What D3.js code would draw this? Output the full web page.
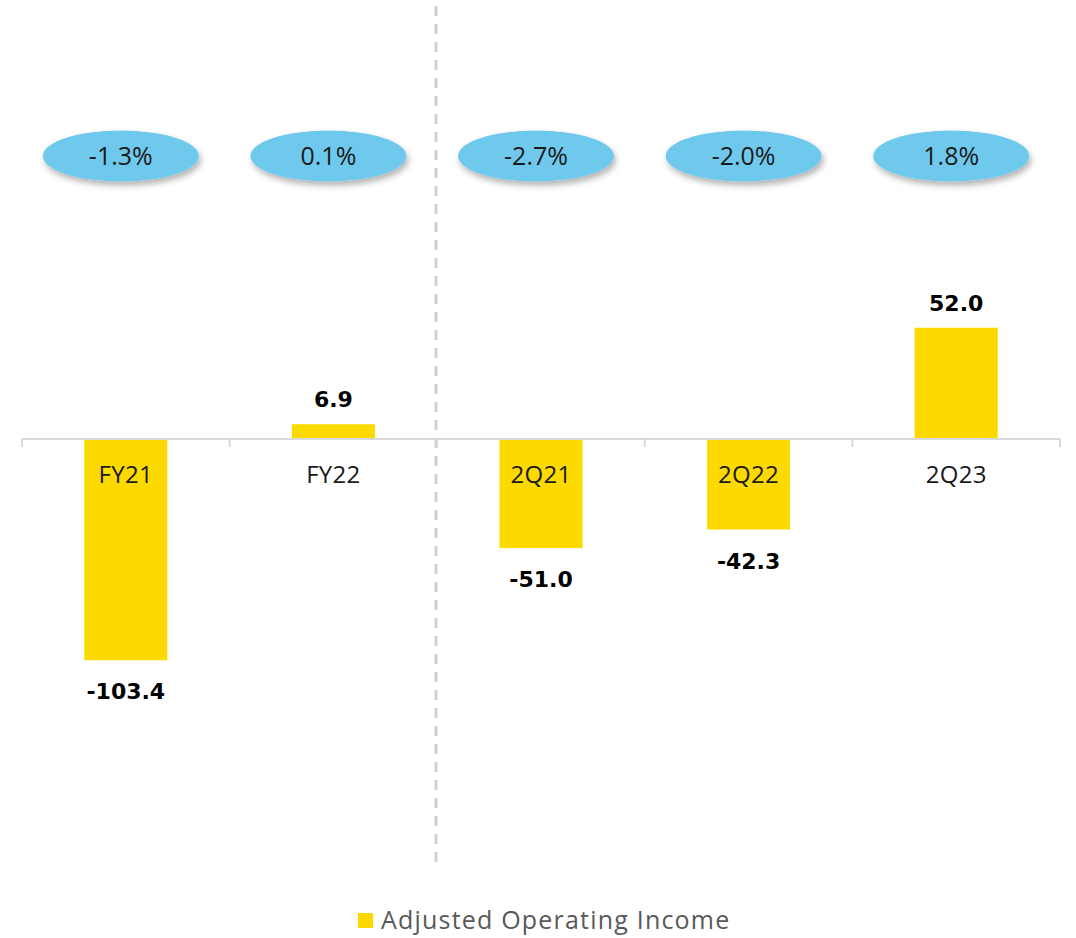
<!DOCTYPE html>
<html><head><meta charset="utf-8">
<script src="https://cdn.jsdelivr.net/npm/d3@7"></script>
<style>html,body{margin:0;padding:0;background:#fff;}svg{display:block;}</style>
</head><body>
<svg id="chart" width="1076" height="938"></svg>
<script>
const categories = ["FY21", "FY22", "2Q21", "2Q22", "2Q23"];
const incomeValues = [-103.4, 6.9, -51.0, -42.3, 52.0];
const marginLabels = ["-1.3%", "0.1%", "-2.7%", "-2.0%", "1.8%"];
const seriesName = "Adjusted Operating Income";

const svg = d3.select("#chart");

const x = d3.scaleBand().domain(categories).range([22, 1060]).paddingInner(0.6).paddingOuter(0.3);
const y = d3.scaleLinear().domain([-200, 200]).range([867, 11]);

const defs = svg.append("defs");
const f = defs.append("filter").attr("id", "shadow").attr("x", "-20%").attr("y", "-30%").attr("width", "140%").attr("height", "170%");
f.append("feDropShadow").attr("dx", 2).attr("dy", 4).attr("stdDeviation", 3).attr("flood-color", "#000").attr("flood-opacity", 0.3);

// divider
svg.append("line")
  .attr("x1", 436).attr("x2", 436)
  .attr("y1", y(200) - 5).attr("y2", y(-200))
  .attr("stroke", "#d0d0d0").attr("stroke-width", 3).attr("stroke-dasharray", "10 8");

// bars
svg.append("g").selectAll("rect").data(categories).join("rect")
  .attr("x", d => x(d))
  .attr("width", x.bandwidth())
  .attr("y", (d, i) => y(Math.max(0, incomeValues[i])))
  .attr("height", (d, i) => Math.abs(y(incomeValues[i]) - y(0)))
  .attr("fill", "#FCDA00");

// axis
const step = x.step();
const boundaries = categories.map(c => x(c) - x.paddingInner() * step / 2);
boundaries.push(x(categories[categories.length - 1]) + x.bandwidth() + x.paddingInner() * step / 2);
const axis = svg.append("g");
axis.append("line").attr("x1", boundaries[0]).attr("x2", boundaries[boundaries.length - 1])
  .attr("y1", y(0)).attr("y2", y(0)).attr("stroke", "#d9d9d9").attr("stroke-width", 2);
axis.selectAll("line.tick").data(boundaries).join("line").attr("class", "tick")
  .attr("x1", d => d).attr("x2", d => d).attr("y1", y(0)).attr("y2", y(0) + 8)
  .attr("stroke", "#d9d9d9").attr("stroke-width", 2);

// category labels
svg.append("g").selectAll("text").data(categories).join("text")
  .attr("x", d => x(d) + x.bandwidth() / 2)
  .attr("y", y(0) + 44)
  .attr("text-anchor", "middle")
  .attr("font-family", "'Open Sans', sans-serif")
  .attr("font-size", 24)
  .attr("letter-spacing", 0.3)
  .attr("fill", "#1a1a1a")
  .text(d => d);

// value labels
svg.append("g").selectAll("text").data(categories).join("text")
  .attr("x", d => x(d) + x.bandwidth() / 2)
  .attr("y", (d, i) => incomeValues[i] >= 0 ? y(incomeValues[i]) - 17 : y(incomeValues[i]) + 39)
  .attr("text-anchor", "middle")
  .attr("font-family", "'DejaVu Sans', sans-serif")
  .attr("font-weight", "bold")
  .attr("font-size", 22)
  .attr("fill", "#000")
  .text((d, i) => incomeValues[i].toFixed(1));

// margin ellipses
const eg = svg.append("g").selectAll("g").data(categories).join("g")
  .attr("transform", d => `translate(${x(d) + x.bandwidth() / 2 - 5},156)`);
eg.append("ellipse").attr("rx", 78).attr("ry", 25.5).attr("fill", "#6EC9EC").attr("filter", "url(#shadow)");
eg.append("text").attr("y", 9).attr("text-anchor", "middle")
  .attr("font-family", "'Open Sans', sans-serif")
  .attr("font-size", 25).attr("fill", "#1a1a1a")
  .text((d, i) => marginLabels[i]);

// legend
const lg = svg.append("g");
lg.append("rect").attr("x", 358).attr("y", 913).attr("width", 15).attr("height", 15).attr("fill", "#FCDA00");
lg.append("text").attr("x", 381).attr("y", 929)
  .attr("font-family", "'Open Sans', sans-serif").attr("font-size", 25).attr("letter-spacing", 1.2).attr("fill", "#595959")
  .text(seriesName);
</script>
</body></html>
